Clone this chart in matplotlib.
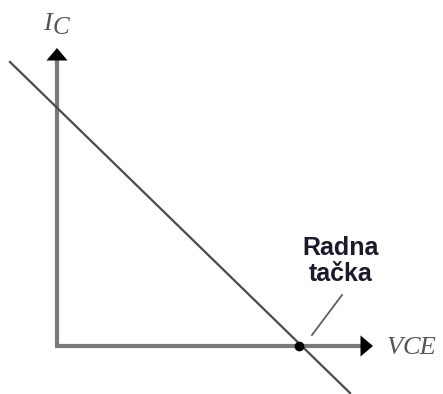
import matplotlib
matplotlib.use("Agg")
import matplotlib.pyplot as plt

# Schematic values (pixel-like coordinates, y downward)
load_line_x = [10, 350]
load_line_y = [62, 393]
q_point = (299, 346)
origin = (57, 346)
axis_end_x = 373
axis_end_y = 48
leader_x = [342, 312]
leader_y = [295, 335]
label_q = "Radna\ntačka"

fig = plt.figure(figsize=(4.43, 3.94), dpi=100)
ax = fig.add_axes([0, 0, 1, 1])
ax.set_xlim(0, 443)
ax.set_ylim(394, 0)
ax.axis("off")

axis_col = "#7a7a7a"
# axes
ax.plot([origin[0], origin[0], axis_end_x - 10], [axis_end_y + 10, origin[1], origin[1]],
        color=axis_col, lw=3, solid_joinstyle="miter", solid_capstyle="butt")
arrow = dict(arrowstyle="-|>,head_length=0.45,head_width=0.38", color="black", lw=0,
             mutation_scale=20, shrinkA=0, shrinkB=0)
ax.annotate("", xy=(origin[0], axis_end_y), xytext=(origin[0], axis_end_y + 14), arrowprops=arrow)
ax.annotate("", xy=(axis_end_x, origin[1]), xytext=(axis_end_x - 14, origin[1]), arrowprops=arrow)

# load line
ax.plot(load_line_x, load_line_y, color="#4a4a4a", lw=1.6)

# Q point
ax.plot([q_point[0]], [q_point[1]], "o", color="black", ms=6)

# leader line
ax.plot(leader_x, leader_y, color="#606060", lw=1.3)

serif = dict(fontfamily="Liberation Serif", fontstyle="italic", color="#555555")
ax.text(43, 30, "I", fontsize=19, ha="left", va="baseline", **serif)
ax.text(53, 34, "C", fontsize=18, ha="left", va="baseline", **serif)
ax.text(387, 354, "V", fontsize=19, ha="left", va="baseline", **serif)
ax.text(403, 354, "CE", fontsize=19, ha="left", va="baseline", **serif)

ax.text(341, 261, label_q, fontsize=18, fontweight="bold", color="#1a1a2a",
        ha="center", va="center", fontfamily="Liberation Sans", linespacing=1.1)

fig.savefig("out.png", dpi=100)
